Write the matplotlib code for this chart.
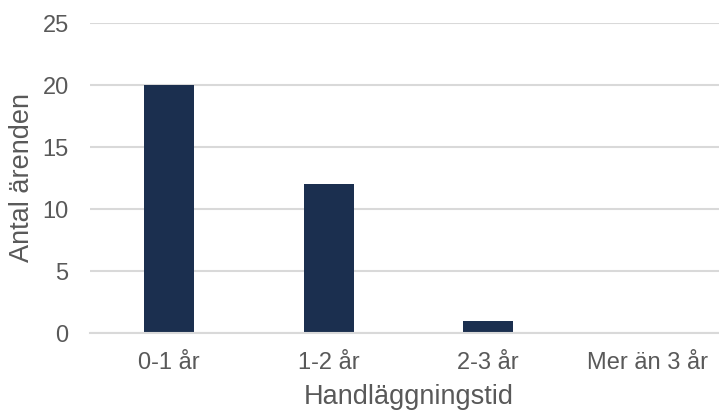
import matplotlib.pyplot as plt

plt.rcParams['font.family'] = ['Liberation Sans', 'DejaVu Sans']

# Handläggningstid per ärende
kategorier = ["0-1 år", "1-2 år", "2-3 år", "Mer än 3 år"]
antal = [20, 12, 1, 0]
y_ticks = [0, 5, 10, 15, 20, 25]

textfarg = "#595959"
gridfarg = "#D9D9D9"
stapelfarg = "#1B2F4F"

fig = plt.figure(figsize=(7.19, 4.11), dpi=100)
ax = fig.add_axes([89.5 / 719, 1 - 333 / 411, 638 / 719, 310 / 411])

x = range(len(kategorier))
ax.bar(x, antal, width=0.313, color=stapelfarg, zorder=3)

ax.set_xlim(-0.5, len(kategorier) - 0.5)
ax.set_ylim(0, 25)
ax.set_yticks(y_ticks)
ax.set_xticks(list(x))
ax.set_xticklabels(kategorier)

ax.grid(axis="y", color=gridfarg, linewidth=1.5, zorder=0)
for side in ["top", "right", "left"]:
    ax.spines[side].set_visible(False)
ax.spines["bottom"].set_color(gridfarg)
ax.spines["bottom"].set_linewidth(1.5)
ax.spines["bottom"].set_zorder(4)

ax.tick_params(axis="both", length=0, labelsize=17, labelcolor=textfarg)
ax.tick_params(axis="x", pad=14)
ax.tick_params(axis="y", pad=15)

ax.set_xlabel("Handläggningstid", fontsize=19.5, color=textfarg, labelpad=7)
ax.set_ylabel("Antal ärenden", fontsize=19.5, color=textfarg)
ax.yaxis.set_label_coords(-54 / 638, 0.5)

fig.savefig("out.png", dpi=100)
